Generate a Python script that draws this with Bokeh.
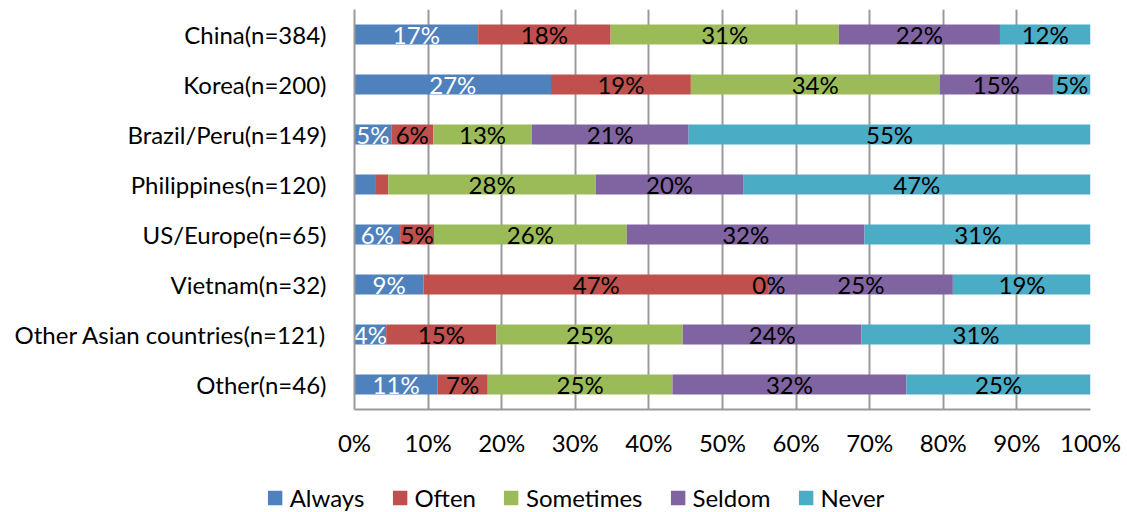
from bokeh.plotting import figure
from bokeh.layouts import column, row
from bokeh.models import (ColumnDataSource, FactorRange, Range1d, Legend,
                          LegendItem, FixedTicker)
from bokeh.core.properties import value
from bokeh.embed import file_html
from bokeh.resources import INLINE

# Survey response shares (%) by country of origin
countries = ["China(n=384)", "Korea(n=200)", "Brazil/Peru(n=149)",
             "Philippines(n=120)", "US/Europe(n=65)", "Vietnam(n=32)",
             "Other Asian countries(n=121)", "Other(n=46)"]
always = [16.8, 26.7, 5.0, 2.8, 6.2, 9.4, 4.3, 11.3]
often = [18.0, 19.0, 5.7, 1.8, 4.6, 46.9, 15.0, 6.8]
sometimes = [31.0, 33.8, 13.4, 28.2, 26.2, 0.0, 25.3, 25.1]
seldom = [21.9, 15.4, 21.3, 20.0, 32.3, 25.0, 24.3, 31.8]
never = [12.3, 5.1, 54.6, 47.2, 30.8, 18.8, 31.1, 25.0]

series_names = ["Always", "Often", "Sometimes", "Seldom", "Never"]
series_values = [always, often, sometimes, seldom, never]
colors = ["#4F81BD", "#C0504D", "#9BBB59", "#8064A2", "#4BACC6"]
label_colors = ["white", "black", "black", "black", "black"]
x_ticks = [0, 10, 20, 30, 40, 50, 60, 70, 80, 90, 100]

FONT = "Lato"
FS = "24px"

data = {"country": countries}
for name, vals in zip(series_names, series_values):
    data[name] = vals
source = ColumnDataSource(data)

p = figure(width=1127, height=460,
           y_range=FactorRange(factors=countries[::-1]),
           x_range=Range1d(0, 100),
           output_backend="svg", toolbar_location=None,
           min_border_left=354, min_border_right=37,
           min_border_top=9, min_border_bottom=51)
p.outline_line_color = None
p.background_fill_color = "white"
p.border_fill_color = "white"

p.hbar_stack(series_names, y="country", height=0.4,
             color=colors, line_color=None, source=source)

# segment labels, centred inside each stacked piece
for i, (name, vals) in enumerate(zip(series_names, series_values)):
    xs, ys, texts = [], [], []
    for j, c in enumerate(countries):
        start = sum(series_values[k][j] for k in range(i))
        v = vals[j]
        if 0 < v < 3:
            continue
        xs.append(start + v / 2)
        ys.append(c)
        texts.append(f"{round(v)}%")
    p.text(x=xs, y=ys, text=texts, text_align="center",
           text_baseline="middle", text_font=value(FONT),
           text_font_size=FS, text_color=label_colors[i])

# axes
p.xaxis.ticker = FixedTicker(ticks=x_ticks)
p.xaxis.major_label_overrides = {t: f"{t}%" for t in x_ticks}
p.xaxis.major_tick_line_color = None
p.xaxis.minor_tick_line_color = None
p.xaxis.axis_line_color = "#9a9a9a"
p.xaxis.axis_line_width = 2
p.xaxis.major_label_standoff = 12
p.xaxis.major_label_text_font = FONT
p.xaxis.major_label_text_font_size = FS
p.xaxis.major_label_text_color = "black"

p.yaxis.major_tick_line_color = None
p.yaxis.minor_tick_line_color = None
p.yaxis.axis_line_color = "#9a9a9a"
p.yaxis.axis_line_width = 2
p.yaxis.major_label_standoff = 22
p.yaxis.major_label_text_font = FONT
p.yaxis.major_label_text_font_size = FS
p.yaxis.major_label_text_color = "black"

p.xgrid.ticker = FixedTicker(ticks=x_ticks)
p.xgrid.grid_line_color = "#9a9a9a"
p.xgrid.grid_line_width = 2
p.ygrid.grid_line_color = None

# legend strip under the chart; its stacked bars sit outside the visible
# x range so only the legend swatches show
leg = figure(width=1127, height=52, x_range=Range1d(-2, -1),
             y_range=FactorRange(factors=countries[::-1]),
             output_backend="svg",
             toolbar_location=None, min_border_left=23, min_border_right=0,
             min_border_top=22, min_border_bottom=0)
leg.axis.visible = False
leg.grid.visible = False
leg.outline_line_color = None
swatches = leg.hbar_stack(series_names, y="country", height=0.4,
                          color=colors, line_color=None, source=source)
legend = Legend(items=[LegendItem(label=n, renderers=[r])
                       for n, r in zip(series_names, swatches)],
                orientation="horizontal", location="center",
                glyph_width=18, glyph_height=18, label_standoff=6,
                spacing=26, padding=0, margin=0,
                label_text_font=FONT, label_text_font_size=FS,
                label_text_color="black", border_line_color=None,
                background_fill_alpha=0)
leg.add_layout(legend, "center")

layout = column(p, row(leg), spacing=0)
open("out.html", "w").write(file_html(layout, INLINE))
